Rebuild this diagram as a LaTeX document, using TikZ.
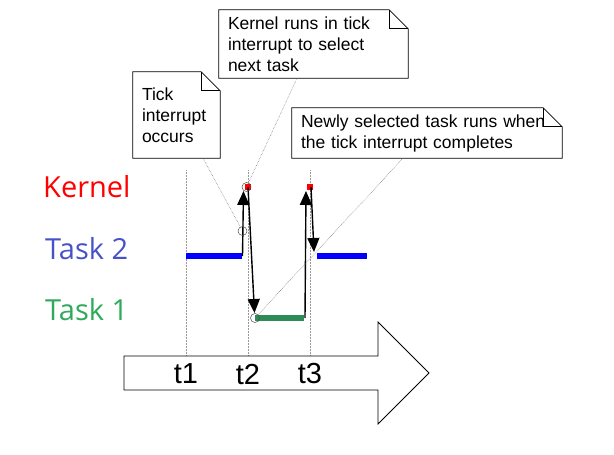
\documentclass[tikz,border=0pt]{standalone}
\usepackage{fontspec}
\setmainfont{Liberation Sans}
\newfontfamily\rowfont{Open Sans}
\usetikzlibrary{arrows.meta, calc}

\definecolor{kernelred}{RGB}{255,0,0}
\definecolor{taskblue}{RGB}{0,0,255}
\definecolor{taskbluetext}{RGB}{72,82,200}
\definecolor{taskgreen}{RGB}{46,139,87}
\definecolor{taskgreentext}{RGB}{45,170,90}

\tikzset{
	note/.style={fill=white, inner xsep=9pt, inner ysep=0pt, align=left, font=\fontsize{17.5}{21}\selectfont},
	notedge/.style={line width=0.8pt},
	pointer/.style={densely dotted, line width=0.5pt, gray!80!black},
	rowlabel/.style={anchor=west, inner sep=0pt, font=\rowfont\fontsize{29}{34}\selectfont},
	ticklabel/.style={inner sep=0pt, font=\fontsize{29}{34}\selectfont},
	ring/.style={circle, draw=gray!60!black, line width=0.5pt, inner sep=0pt, minimum size=9pt},
	kdot/.style={rectangle, fill=kernelred, inner sep=0pt, minimum size=5.5pt},
	taskbar/.style={line width=6.5pt},
}

\begin{document}
\begin{tikzpicture}[x=1pt, y=-1pt]
					\def\fold{19pt};
					\def\yKERNEL{187};
					\def\yTASKTWO{256};
					\def\yTASKONE{318};
					
					\useasboundingbox (0,0) rectangle (614,455);
					
					\foreach \tx in {186, 248, 310}
						\draw[densely dotted, gray!80, line width=0.5pt] (\tx,170) -- (\tx,356);
					
					\node[rowlabel, text=kernelred] (kernellbl) at (43,\yKERNEL) {Kernel};
					\node[rowlabel, text=taskbluetext] (tasktwolbl) at (45,\yTASKTWO-7) {Task 2};
					\node[rowlabel, text=taskgreentext] (taskonelbl) at (45,\yTASKONE-8) {Task 1};
					
					\begin{scope}
						\draw[taskbar, taskblue] (186,\yTASKTWO) -- (242,\yTASKTWO);
						\draw[taskbar, taskblue] (317,\yTASKTWO) -- (367,\yTASKTWO);
						\draw[taskbar, taskgreen] (255,\yTASKONE) -- (304,\yTASKONE);
					\end{scope}
					
					\node[kdot] (kone) at (248,\yKERNEL) {};
					\node[kdot] (ktwo) at (310,\yKERNEL) {};
					
					\begin{scope}[-{Triangle[length=14pt, width=12pt]}, line width=1.4pt]
						\draw (242.5,\yTASKTWO) -- (243.5,191);
						\draw (248,\yKERNEL) -- (254.5,313);
						\draw (305,\yTASKONE) -- (306,191);
						\draw (311,\yKERNEL) -- (314,252);
					\end{scope}
					
					\node[ring] (irq) at (242.5,231) {};
					\node[ring] (enter) at (246.5,187) {};
					\node[ring] (resume) at (255,318) {};
					
					\node[note, minimum width=87pt, minimum height=86pt, text width=69pt] (ticknote) at (176.5,115) {Tick\\interrupt\\occurs};
					\node[note, minimum width=189pt, minimum height=68pt, text width=171pt] (kernnote) at (313.5,44) {Kernel runs in tick\\interrupt to select\\next task};
					\node[note, minimum width=270pt, minimum height=50pt, text width=252pt] (newnote) at (427,133) {Newly selected task runs when\\the tick interrupt completes};
					
					\foreach \n in {ticknote, kernnote, newnote} {
						\draw[notedge] (\n.south west) -- (\n.north west) -- ([xshift=-\fold]\n.north east) -- ([yshift=-\fold]\n.north east) -- (\n.south east) -- cycle;
						\draw[notedge] ([xshift=-\fold]\n.north east) |- ([yshift=-\fold]\n.north east);
					}
					
					\begin{scope}[pointer]
						\draw ([xshift=26.5pt]ticknote.south) -- (irq);
						\draw ([xshift=-16.5pt]kernnote.south) -- (enter);
						\draw ([xshift=-24pt]newnote.south) -- (resume);
					\end{scope}
					
					\draw[fill=white, line width=0.8pt] (124,356) -- (378,356) -- (378,322) -- (429,373) -- (378,424) -- (378,390) -- (124,390) -- cycle;
					\node[ticklabel] (tone) at (186,374) {t1};
					\node[ticklabel] (ttwo) at (248,374) {t2};
					\node[ticklabel] (tthree) at (310,374) {t3};
				\end{tikzpicture}
\end{document}
